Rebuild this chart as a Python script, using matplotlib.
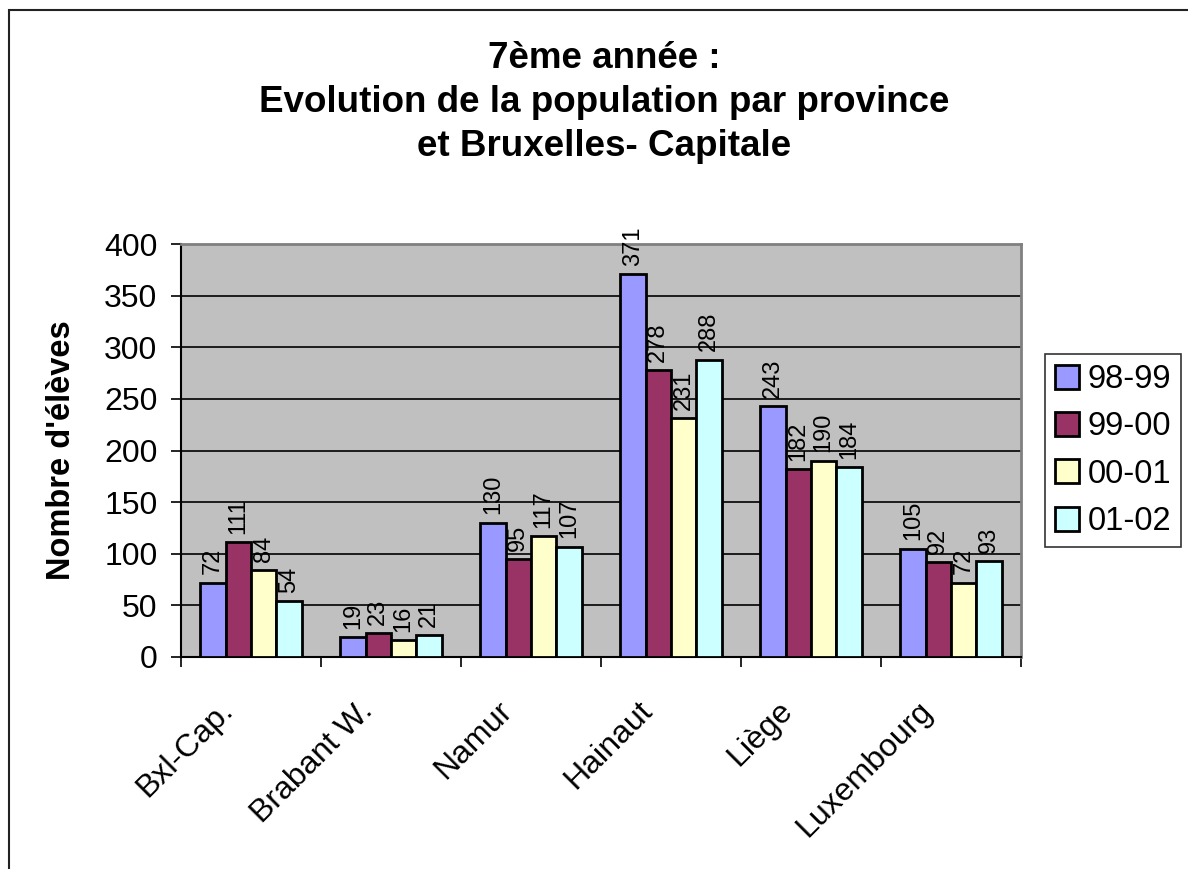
import matplotlib
matplotlib.use("Agg")
import matplotlib.pyplot as plt
import numpy as np
from matplotlib.patches import Rectangle
from matplotlib.transforms import ScaledTranslation
from matplotlib import font_manager

plt.rcParams['font.family'] = ['Liberation Sans', 'DejaVu Sans']

categories = ["Bxl-Cap.", "Brabant W.", "Namur", "Hainaut", "Liège", "Luxembourg"]
series_names = ["98-99", "99-00", "00-01", "01-02"]
s_98_99 = [72, 19, 130, 371, 243, 105]
s_99_00 = [111, 23, 95, 278, 182, 92]
s_00_01 = [84, 16, 117, 231, 190, 72]
s_01_02 = [54, 21, 107, 288, 184, 93]
series = [s_98_99, s_99_00, s_00_01, s_01_02]
colors = ["#9999FF", "#993366", "#FFFFCC", "#CCFFFF"]
yticks = [0, 50, 100, 150, 200, 250, 300, 350, 400]

available = {f.name for f in font_manager.fontManager.ttflist}
if "Liberation Sans Narrow" in available:
    label_family = ["Liberation Sans Narrow", "DejaVu Sans"]
    label_size = 20.5
else:
    label_family = ["Liberation Sans", "DejaVu Sans"]
    label_size = 17

W, H = 1188, 869
fig = plt.figure(figsize=(W / 100, H / 100), dpi=100)

# outer chart border (only left and top visible)
fig.patches.append(Rectangle((9 / W, -0.1), 1.2, (H - 10) / H + 0.1,
                             transform=fig.transFigure, fill=False,
                             edgecolor="#222222", linewidth=1.5))

left, right, top, bottom = 181, 1021, 244, 657
ax = fig.add_axes([left / W, (H - bottom) / H, (right - left) / W, (bottom - top) / H])
ax.set_facecolor("#C0C0C0")

x = np.arange(len(categories))
bw = 0.182
for i, (vals, c, name) in enumerate(zip(series, colors, series_names)):
    pos = x + (i - 1.5) * bw
    ax.bar(pos, vals, width=bw, color=c, edgecolor="black", linewidth=2, label=name, zorder=3)
    for p, v in zip(pos, vals):
        ax.annotate(str(v), (p, v), xytext=(0, 6), textcoords="offset points",
                    rotation=90, ha="center", va="bottom", fontsize=label_size,
                    family=label_family, zorder=4, annotation_clip=False)

ax.set_xlim(-0.5, len(categories) - 0.5)
ax.set_ylim(0, 400)
ax.set_yticks(yticks)
ax.set_yticklabels([str(t) for t in yticks], fontsize=23)
ax.yaxis.grid(True, color="black", linewidth=1.2, zorder=1)
ax.set_axisbelow(True)

ax.set_xticks(np.arange(len(categories) + 1) - 0.5, minor=False)
ax.set_xticklabels([])
ax.set_xticks(x, minor=True)
ax.set_xticklabels(categories, minor=True, rotation=45, ha="right", va="center",
                   rotation_mode="anchor", fontsize=23)
ax.tick_params(axis="x", which="minor", length=0, pad=0)
ax.tick_params(axis="x", which="major", length=7, width=1.2, color="black")
ax.tick_params(axis="y", length=7, width=1.2, color="black", pad=10)
offset = ScaledTranslation(-0.23, -0.49, fig.dpi_scale_trans)
for lbl in ax.get_xticklabels(minor=True):
    lbl.set_transform(lbl.get_transform() + offset)

for s in ["top", "right"]:
    ax.spines[s].set_color("#808080")
    ax.spines[s].set_linewidth(2)
for s in ["left", "bottom"]:
    ax.spines[s].set_color("black")
    ax.spines[s].set_linewidth(1.5)

fig.text(62 / W, 1 - 450 / H, "Nombre d'élèves", rotation=90, ha="center", va="center",
         fontsize=23.5, fontweight="bold")

for yy, txt in [(58, "7ème année :"), (102, "Evolution de la population par province"),
                (147, "et Bruxelles- Capitale")]:
    fig.text(604 / W, 1 - yy / H, txt, ha="center", va="center", fontsize=26.5, fontweight="bold")

leg = ax.legend(loc="center left", bbox_to_anchor=((1045 - left) / (right - left), 0.5),
                fontsize=23.5, frameon=True, fancybox=False, edgecolor="black",
                handlelength=0.75, handleheight=0.75, handletextpad=0.25,
                labelspacing=0.5, borderpad=0.3, borderaxespad=0)
leg.get_frame().set_linewidth(1.2)
for h in leg.legend_handles:
    h.set_linewidth(2)

fig.savefig("out.png", dpi=100)
